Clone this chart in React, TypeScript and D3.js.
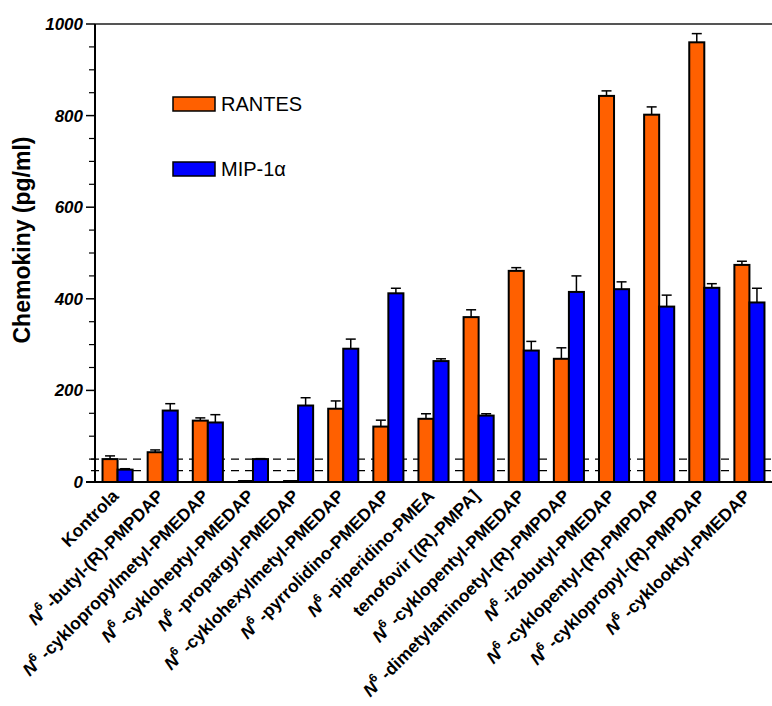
import React from "react";
import * as d3 from "d3";

const hasN6 = [false, true, true, true, true, true, true, true, false, true, true, true, true, true, true];
const names = [
  "Kontrola",
  "-butyl-(R)-PMPDAP",
  "-cyklopropylmetyl-PMEDAP",
  "-cykloheptyl-PMEDAP",
  "-propargyl-PMEDAP",
  "-cyklohexylmetyl-PMEDAP",
  "-pyrrolidino-PMEDAP",
  "-piperidino-PMEA",
  "tenofovir [(R)-PMPA]",
  "-cyklopentyl-PMEDAP",
  "-dimetylaminoetyl-(R)-PMPDAP",
  "-izobutyl-PMEDAP",
  "-cyklopentyl-(R)-PMPDAP",
  "-cyklopropyl-(R)-PMPDAP",
  "-cyklooktyl-PMEDAP",
];
const series = ["RANTES", "MIP-1α"];
const rantes = [50, 65, 134, 0, 0, 160, 121, 138, 360, 461, 269, 843, 802, 960, 474];
const rantesErr = [7, 5, 6, 0, 0, 17, 14, 11, 16, 7, 24, 11, 17, 19, 8];
const mip = [27, 156, 130, 50, 167, 291, 412, 264, 145, 287, 415, 421, 383, 424, 392];
const mipErr = [2, 15, 17, 1, 17, 21, 11, 5, 4, 20, 35, 16, 25, 9, 31];
const majorTicks = [0, 200, 400, 600, 800, 1000];
const refLines = [50, 25];
const colors = ["#FF6000", "#0000FF"];

const W = 772;
const H = 706;
const left = 95;
const right = 772;
const top = 24;
const bottom = 482;

export default function App() {
  const ids = names.map((_, i) => String(i));
  const x = d3.scaleBand<string>().domain(ids).range([left, right]).paddingInner(0).paddingOuter(0);
  const xs = d3.scaleBand<string>().domain(series).range([0, x.bandwidth()]).paddingInner(0).paddingOuter(0.5);
  const y = d3.scaleLinear().domain([0, 1000]).range([bottom, top]);
  const minorTicks = d3.range(0, 1001, 50).filter((v) => v % 200 !== 0);
  const vals = [rantes, mip];
  const errs = [rantesErr, mipErr];
  const font = "'Liberation Sans', Arial, sans-serif";

  return (
    <svg width={W} height={H} style={{ position: "absolute", left: 0, top: 0, background: "#fff" }} fontFamily={font}>
      <rect x={0} y={0} width={W} height={H} fill="#fff" />
      {refLines.map((v) => (
        <line key={v} x1={left - 4} x2={right} y1={y(v)} y2={y(v)} stroke="#000" strokeWidth={1.2} strokeDasharray="8,6" />
      ))}
      {ids.map((id, i) => (
        <g key={id}>
          {series.map((s, k) => {
            const v = vals[k][i];
            const e = errs[k][i];
            const bx = (x(id) as number) + (xs(s) as number);
            const bw = xs.bandwidth();
            const cx = bx + bw / 2;
            return (
              <g key={s}>
                {e > 0 && (
                  <g stroke="#000" strokeWidth={1.5}>
                    <line x1={cx} x2={cx} y1={y(v)} y2={y(v + e)} />
                    <line x1={cx - 5} x2={cx + 5} y1={y(v + e)} y2={y(v + e)} />
                  </g>
                )}
                {v > 0 ? (
                  <rect x={bx} y={y(v)} width={bw} height={y(0) - y(v)} fill={colors[k]} stroke="#000" strokeWidth={2} />
                ) : (
                  <line x1={bx} x2={bx + bw} y1={y(0) - 1} y2={y(0) - 1} stroke="#000" strokeWidth={2} />
                )}
              </g>
            );
          })}
        </g>
      ))}
      <line x1={left} x2={right} y1={top} y2={top} stroke="#555" strokeWidth={2} />
      <line x1={left} x2={left} y1={top} y2={bottom} stroke="#000" strokeWidth={2} />
      <line x1={left - 9} x2={right} y1={bottom} y2={bottom} stroke="#000" strokeWidth={2} />
      {majorTicks.map((t) => (
        <g key={t}>
          <line x1={left - 9} x2={left} y1={y(t)} y2={y(t)} stroke="#000" strokeWidth={1.5} />
          <text x={left - 12} y={y(t)} dy="0.35em" textAnchor="end" fontSize={17} fontWeight="bold" fontStyle="italic">
            {t}
          </text>
        </g>
      ))}
      {minorTicks.map((t) => (
        <line key={t} x1={left - 6} x2={left} y1={y(t)} y2={y(t)} stroke="#000" strokeWidth={1.2} />
      ))}
      <text transform={`translate(30,240) rotate(-90)`} textAnchor="middle" fontSize={23} fontWeight="bold">
        Chemokiny (pg/ml)
      </text>
      {ids.map((id, i) => {
        const cx = (x(id) as number) + x.bandwidth() / 2 + 2;
        return (
          <text key={id} transform={`translate(${cx},${bottom + 15}) rotate(-45)`} textAnchor="end" fontSize={17.5} fontWeight="bold">
            {hasN6[i] && (
              <>
                <tspan fontStyle="italic">N</tspan>
                <tspan fontSize={12} dy={-8}>6</tspan>
                <tspan dy={8}> </tspan>
              </>
            )}
            <tspan>{names[i]}</tspan>
          </text>
        );
      })}
      {series.map((s, k) => (
        <g key={s} transform={`translate(173,${97 + k * 65})`}>
          <rect x={0} y={0} width={42} height={14} fill={colors[k]} stroke="#000" strokeWidth={1.5} />
          <text x={48} y={14} fontSize={20}>
            {s}
          </text>
        </g>
      ))}
    </svg>
  );
}
